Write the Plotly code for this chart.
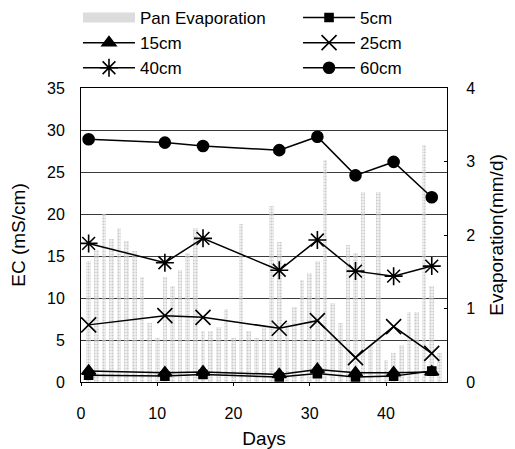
import plotly.graph_objects as go

# Daily pan evaporation (mm/d)
days = list(range(1, 48))
pan_evap = [1.65, 1.80, 2.28, 1.95, 2.10, 1.92, 1.78, 1.43, 0.80, 0.60,
            1.43, 1.30, 1.52, 1.75, 2.10, 0.70, 0.70, 0.75, 1.00, 0.60,
            2.15, 0.70, 0.60, 0.75, 2.40, 1.90, 0.80, 1.02, 1.39, 1.48,
            1.65, 3.02, 1.07, 0.80, 1.86, 1.75, 2.58, 0.50, 2.58, 0.30,
            0.40, 0.50, 0.95, 0.95, 3.22, 1.30, 0.40]

# Soil EC (mS/cm) on sampling days at each depth
sample_days = [1, 11, 16, 26, 31, 36, 41, 46]
ec_5cm = [0.8, 0.7, 0.9, 0.6, 1.0, 0.6, 0.7, 1.3]
ec_15cm = [1.3, 1.1, 1.2, 0.9, 1.5, 1.1, 1.1, 1.2]
ec_25cm = [6.8, 7.9, 7.7, 6.4, 7.3, 2.9, 6.6, 3.4]
ec_40cm = [16.5, 14.2, 17.1, 13.3, 16.9, 13.2, 12.6, 13.8]
ec_60cm = [28.9, 28.5, 28.1, 27.6, 29.2, 24.6, 26.2, 22.0]

x_ticks = [0, 10, 20, 30, 40]

FONT = "Liberation Sans"
fig = go.Figure()

# Evaporation bars (drawn on the right-hand axis, below the EC lines)
fig.add_trace(go.Bar(
    x=days, y=pan_evap, yaxis="y", width=0.62, showlegend=False,
    marker=dict(color="#b4b4b4", line=dict(width=0),
                pattern=dict(shape=".", size=3, solidity=0.4,
                             fgcolor="#a6a6a6", bgcolor="rgba(230,230,230,0.5)")),
))
# Legend swatch for the bars
fig.add_trace(go.Scatter(
    x=[None], y=[None], yaxis="y2", mode="lines", name="Pan Evaporation",
    line=dict(color="#dcdcdc", width=13), legend="legend", legendgroup="pan",
))

# (name, values, marker symbol, marker size, legend column)
series = [
    ("5cm", ec_5cm, "square", 8, "legend2"),
    ("15cm", ec_15cm, "triangle-up", 12, "legend"),
    ("25cm", ec_25cm, "x-thin-open", 15, "legend2"),
    ("40cm", ec_40cm, "asterisk-open", 15, "legend"),
    ("60cm", ec_60cm, "circle", 11, "legend2"),
]
for name, vals, sym, size, leg in series:
    fig.add_trace(go.Scatter(
        x=sample_days, y=vals, yaxis="y2", name=name, mode="lines+markers",
        line=dict(color="black", width=1.5),
        marker=dict(symbol=sym, size=size, color="black",
                    line=dict(color="black", width=1.6)),
        legend=leg, legendgroup=name,
    ))

legend_style = dict(
    orientation="v", yanchor="top", y=1.2993, xanchor="left",
    itemwidth=52, tracegroupgap=4.5, bgcolor="rgba(0,0,0,0)",
    font=dict(family=FONT, size=17), traceorder="normal",
)

fig.update_layout(
    width=515, height=449,
    margin=dict(l=81, r=68, t=88, b=67, autoexpand=False),
    paper_bgcolor="white", plot_bgcolor="white",
    font=dict(family=FONT, size=16, color="black"),
    bargap=0,
    xaxis=dict(
        range=[0, 48], tickvals=x_ticks, showgrid=False, zeroline=False,
        showline=True, linecolor="black", linewidth=1, mirror=True,
        ticks="outside", ticklen=3, tickcolor="black", ticklabelstandoff=14,
        title=dict(text="Days", standoff=11),
    ),
    yaxis=dict(
        side="right", range=[0, 4], dtick=1, showgrid=False, zeroline=False,
        showline=True, linecolor="black", linewidth=1,
        ticks="inside", ticklen=3, tickcolor="black", ticklabelstandoff=15,
        title=dict(text="Evaporation(mm/d)", standoff=15),
    ),
    yaxis2=dict(
        overlaying="y", side="left", range=[0, 35], dtick=5,
        showgrid=True, gridcolor="#3a3a3a", gridwidth=1, zeroline=False,
        showline=True, linecolor="black", linewidth=1,
        ticks="", ticklabelstandoff=12,
        title=dict(text="EC (mS/cm)", standoff=16),
    ),
    legend=dict(x=-0.0082, **legend_style),
    legend2=dict(x=0.593, **legend_style),
)

fig.write_html("out.html")
